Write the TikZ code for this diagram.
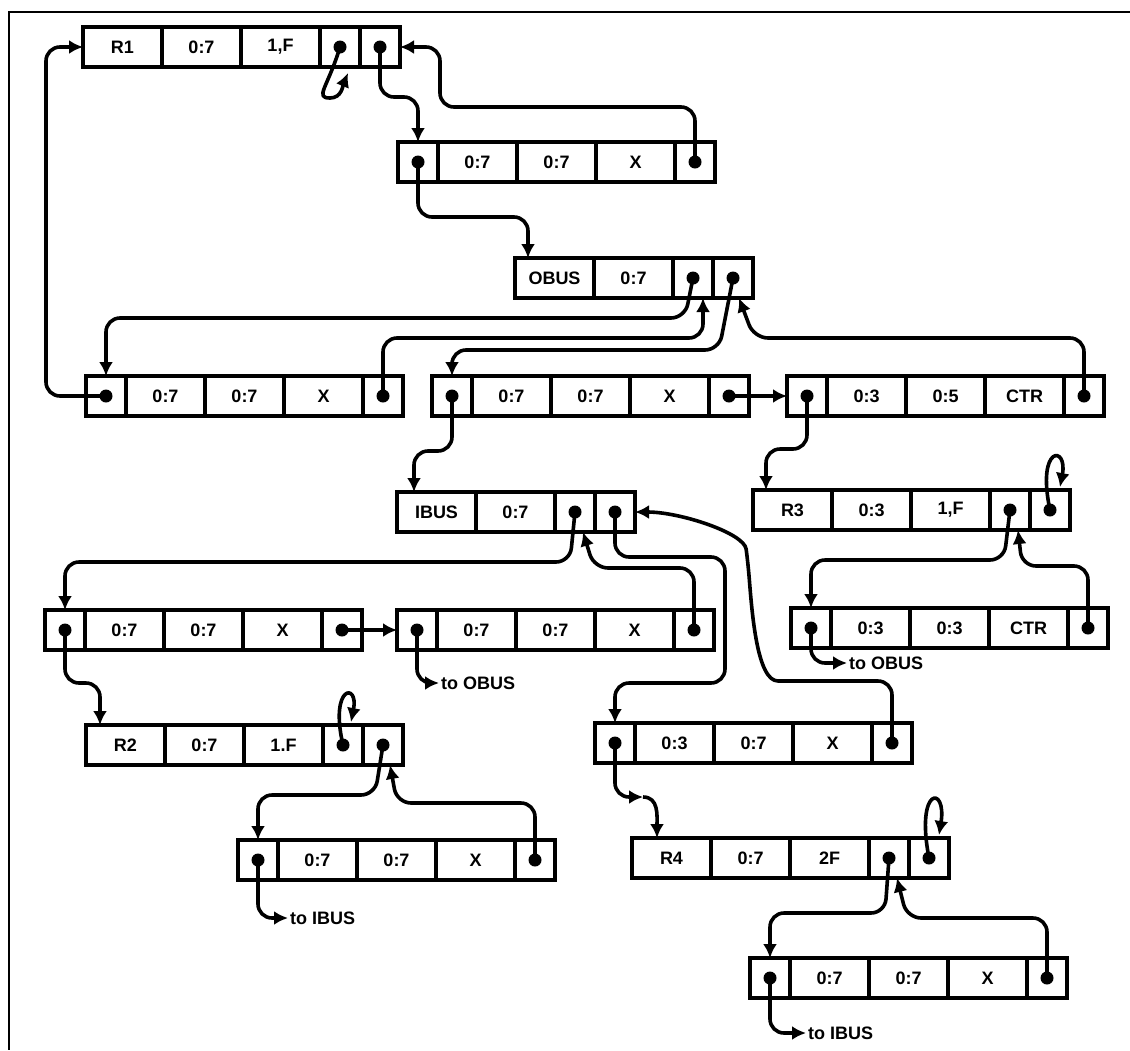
\documentclass[tikz,border=0pt]{standalone}
\usepackage{fontspec}
\setsansfont{Liberation Sans}
\usepackage{tikz}
\usetikzlibrary{positioning,arrows.meta,calc}

\begin{document}
\begin{tikzpicture}[
  x=1pt,y=-1pt,
  cell/.style={draw,line width=3.2pt,minimum width=79pt,minimum height=40pt,inner sep=0pt,outer sep=0pt,
    font=\sffamily\bfseries\fontsize{18}{20}\selectfont},
  ptr/.style={cell,minimum width=40pt,path picture={\fill (path picture bounding box.center) circle (6.5pt);}},
  link/.style={->,line width=3.6pt,rounded corners=14pt,line join=round},
  hook/.style={->,line width=3.6pt,sharp corners,line join=round},
  note/.style={anchor=west,inner sep=2pt,font=\sffamily\bfseries\fontsize{18}{20}\selectfont},
  >={Latex[length=14pt,width=14pt]}
]
\useasboundingbox (0,0) rectangle (1130,1050);
\draw[line width=2.8pt] (1130,12) -- (9,12) -- (9,1050);

% R1
\node[cell,anchor=north west] (r1a) at (83,27) {R1};
\node[cell,right=0pt of r1a] (r1b) {0:7};
\node[cell,right=0pt of r1b] (r1c) {1,F};
\node[ptr,right=0pt of r1c] (r1d) {};
\node[ptr,right=0pt of r1d] (r1e) {};

\node[ptr,anchor=north west] (t1a) at (398,142) {};
\node[cell,right=0pt of t1a] (t1b) {0:7};
\node[cell,right=0pt of t1b] (t1c) {0:7};
\node[cell,right=0pt of t1c] (t1d) {X};
\node[ptr,right=0pt of t1d] (t1e) {};

% OBUS
\node[cell,anchor=north west] (oba) at (515,258) {OBUS};
\node[cell,right=0pt of oba] (obb) {0:7};
\node[ptr,right=0pt of obb] (obc) {};
\node[ptr,right=0pt of obc] (obd) {};

\node[ptr,anchor=north west] (t2a) at (86,376) {};
\node[cell,right=0pt of t2a] (t2b) {0:7};
\node[cell,right=0pt of t2b] (t2c) {0:7};
\node[cell,right=0pt of t2c] (t2d) {X};
\node[ptr,right=0pt of t2d] (t2e) {};

\node[ptr,anchor=north west] (t3a) at (432,376) {};
\node[cell,right=0pt of t3a] (t3b) {0:7};
\node[cell,right=0pt of t3b] (t3c) {0:7};
\node[cell,right=0pt of t3c] (t3d) {X};
\node[ptr,right=0pt of t3d] (t3e) {};

\node[ptr,anchor=north west] (c1a) at (787,376) {};
\node[cell,right=0pt of c1a] (c1b) {0:3};
\node[cell,right=0pt of c1b] (c1c) {0:5};
\node[cell,right=0pt of c1c] (c1d) {CTR};
\node[ptr,right=0pt of c1d] (c1e) {};

% R3
\node[cell,anchor=north west] (r3a) at (753,490) {R3};
\node[cell,right=0pt of r3a] (r3b) {0:3};
\node[cell,right=0pt of r3b] (r3c) {1,F};
\node[ptr,right=0pt of r3c] (r3d) {};
\node[ptr,right=0pt of r3d] (r3e) {};

\node[ptr,anchor=north west] (c2a) at (791,608) {};
\node[cell,right=0pt of c2a] (c2b) {0:3};
\node[cell,right=0pt of c2b] (c2c) {0:3};
\node[cell,right=0pt of c2c] (c2d) {CTR};
\node[ptr,right=0pt of c2d] (c2e) {};

% IBUS
\node[cell,anchor=north west] (iba) at (397,492) {IBUS};
\node[cell,right=0pt of iba] (ibb) {0:7};
\node[ptr,right=0pt of ibb] (ibc) {};
\node[ptr,right=0pt of ibc] (ibd) {};

\node[ptr,anchor=north west] (t4a) at (45,610) {};
\node[cell,right=0pt of t4a] (t4b) {0:7};
\node[cell,right=0pt of t4b] (t4c) {0:7};
\node[cell,right=0pt of t4c] (t4d) {X};
\node[ptr,right=0pt of t4d] (t4e) {};

\node[ptr,anchor=north west] (t5a) at (397,610) {};
\node[cell,right=0pt of t5a] (t5b) {0:7};
\node[cell,right=0pt of t5b] (t5c) {0:7};
\node[cell,right=0pt of t5c] (t5d) {X};
\node[ptr,right=0pt of t5d] (t5e) {};

% R2
\node[cell,anchor=north west] (r2a) at (86,725) {R2};
\node[cell,right=0pt of r2a] (r2b) {0:7};
\node[cell,right=0pt of r2b] (r2c) {1.F};
\node[ptr,right=0pt of r2c] (r2d) {};
\node[ptr,right=0pt of r2d] (r2e) {};

\node[ptr,anchor=north west] (t6a) at (238,840) {};
\node[cell,right=0pt of t6a] (t6b) {0:7};
\node[cell,right=0pt of t6b] (t6c) {0:7};
\node[cell,right=0pt of t6c] (t6d) {X};
\node[ptr,right=0pt of t6d] (t6e) {};

\node[ptr,anchor=north west] (t7a) at (595,723) {};
\node[cell,right=0pt of t7a] (t7b) {0:3};
\node[cell,right=0pt of t7b] (t7c) {0:7};
\node[cell,right=0pt of t7c] (t7d) {X};
\node[ptr,right=0pt of t7d] (t7e) {};

% R4
\node[cell,anchor=north west] (r4a) at (632,838) {R4};
\node[cell,right=0pt of r4a] (r4b) {0:7};
\node[cell,right=0pt of r4b] (r4c) {2F};
\node[ptr,right=0pt of r4c] (r4d) {};
\node[ptr,right=0pt of r4d] (r4e) {};

\node[ptr,anchor=north west] (t8a) at (750,958) {};
\node[cell,right=0pt of t8a] (t8b) {0:7};
\node[cell,right=0pt of t8b] (t8c) {0:7};
\node[cell,right=0pt of t8c] (t8d) {X};
\node[ptr,right=0pt of t8d] (t8e) {};

% loose ends
\node[note] (to1) at ($(c2a.south)+(36,15)$) {to OBUS};
\node[note] (to2) at ($(t5a.south)+(22,33)$) {to OBUS};
\node[note] (to3) at ($(t6a.south)+(30,38)$) {to IBUS};
\node[note] (to4) at ($(t8a.south)+(36,35)$) {to IBUS};
\coordinate (kink) at ($(t7a.center)+(28,54)$);

% pointers around R1 and OBUS
\draw[link] (t2a.center) -- ++(-60,0) |- (r1a.west);
\draw[hook] (r1d.center) .. controls +(-12,40) and +(-16,0) .. ($(r1d.south)+(-10,31)$)
  .. controls +(12,0) and +(-5,12) .. ($(r1d.south)+(8,6)$);
\draw[link] (r1e.center) -- ++(0,50) -| (t1a.north);
\draw[link] (t1e.center) |- ($(r1e.east)+(40,60)$) |- (r1e.east);
\draw[link] (t1a.center) -- ++(0,55) -| ($(oba.north west)+(13,0)$);
\draw[link] (obc.center) -- ++(-8,40) -| (t2a.north);
\draw[link] (t2e.center) -- ++(0,-58) -| ($(obc.south)+(10,0)$);
\draw[link] (obd.center) -- ++(-14,72) -| (t3a.north);
\draw[link] (c1e.center) |- ++(-330,-58) -- ($(obd.south)+(6,0)$);
\draw[link] (t3e.center) -- (c1a.west);

% R3 and its counter
\draw[link] (c1a.center) -- ++(0,53) -| ($(r3a.north west)+(13,0)$);
\draw[hook] (r3e.center) .. controls +(-14,-65) and +(8,-42) .. ($(r3e.north)+(10,-3)$);
\draw[link] (r3d.center) -- ++(-6,50) -| (c2a.north);
\draw[link] (c2e.center) |- ++(-66,-62) -- ($(r3d.south)+(8,0)$);
\draw[link] (c2a.center) |- (to1.west);

% IBUS
\draw[link] (t3a.center) -- ++(0,55) -| ($(iba.north west)+(17,0)$);
\draw[link] (ibc.center) -- ++(-5,50) -| (t4a.north);
\draw[link] (t5e.center) |- ++(-100,-62) -- ($(ibc.south)+(8,0)$);
\draw[link] (ibd.center) |- ++(110,45) |- ($(t7a.north)+(0,-40)$) -- (t7a.north);
\draw[link] (t7e.center) |- ++(-100,-62) .. controls +(-35,0) and +(4,50) .. ++(-44,-118)
  .. controls +(-4,-30) and +(45,0) .. (ibd.east);
\draw[link] (t4e.center) -- (t5a.west);
\draw[link] (t5a.center) |- (to2.west);

% R2
\draw[link] (t4a.center) -- ++(0,53) -| ($(r2a.north west)+(14,0)$);
\draw[hook] (r2d.center) .. controls +(-14,-60) and +(8,-40) .. ($(r2d.north)+(8,-3)$);
\draw[link] (r2e.center) -- ++(-8,50) -| (t6a.north);
\draw[link] (t6e.center) |- ++(-138,-57) -- ($(r2e.south)+(7,0)$);
\draw[link] (t6a.center) |- (to3.west);

% R4
\draw[link] (t7a.center) |- (kink);
\draw[hook] (kink) .. controls +(16,0) and +(0,-22) .. ($(r4a.north west)+(25,0)$);
\draw[hook] (r4e.center) .. controls +(-14,-72) and +(8,-50) .. ($(r4e.north)+(10,-3)$);
\draw[link] (r4d.center) -- ++(-4,55) -| (t8a.north);
\draw[link] (t8e.center) |- ++(-140,-60) -- ($(r4d.south)+(8,0)$);
\draw[link] (t8a.center) |- (to4.west);
\end{tikzpicture}
\end{document}
